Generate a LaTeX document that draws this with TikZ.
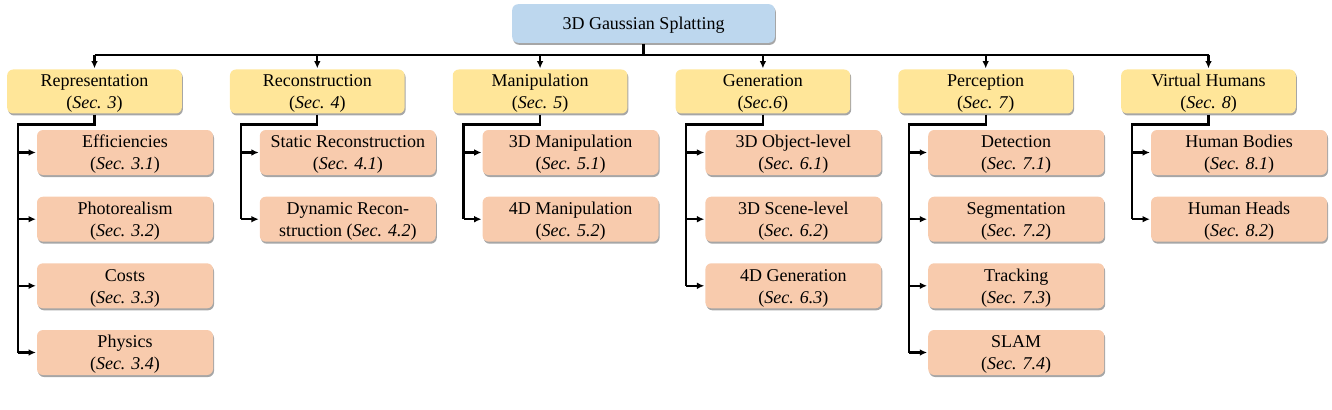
\documentclass[tikz,border=0pt]{standalone}
\usepackage{fontspec}
\setmainfont{Liberation Serif}
\usepackage{tikz}
\usepackage{xcolor}
\usetikzlibrary{arrows.meta,shadows}
\definecolor{rootblue}{RGB}{189, 215, 238}
\definecolor{catyellow}{RGB}{255, 230, 153}
\definecolor{subpeach}{RGB}{248, 203, 173}

\tikzset{
  box/.style = {rounded corners = 4.5pt, align = center, inner sep = 0pt,
    font = \fontsize{13.5}{16.5}\selectfont, text height = 29.2pt, text depth = 3pt,
    drop shadow = {shadow xshift = 0.75pt, shadow yshift = -1.5pt, fill = black, opacity = 0.35}},
  rootbox/.style = {box, fill = rootblue, minimum width = 197pt, minimum height = 29pt,
    text height = 9.5pt, text depth = 1pt},
  catbox/.style = {box, fill = catyellow, minimum width = 131pt, minimum height = 33pt},
  subbox/.style = {box, fill = subpeach, minimum width = 132pt, minimum height = 33.75pt},
}

\begin{document}
\begin{tikzpicture}[x = 0.75pt, y = -0.75pt, >={Latex[length=5.5pt, width=5pt]}, line width = 1.65pt]
\useasboundingbox (0,0) rectangle (1332,410);

\node[rootbox] (root) at (643.5,23.5) {3D Gaussian Splatting};

\node[catbox] (rep) at (94.5,91.5) {Representation\\(\textit{Sec. 3})};
\node[catbox] (rec) at (317.3,91.5) {Reconstruction\\(\textit{Sec. 4})};
\node[catbox] (man) at (540.1,91.5) {Manipulation\\(\textit{Sec. 5})};
\node[catbox] (gen) at (762.9,91.5) {Generation\\(\textit{Sec.6})};
\node[catbox] (per) at (985.7,91.5) {Perception\\(\textit{Sec. 7})};
\node[catbox] (hum) at (1208.5,91.5) {Virtual Humans\\(\textit{Sec. 8})};

\node[subbox] (rep1) at (125,152.5) {Efficiencies\\(\textit{Sec. 3.1})};
\node[subbox] (rep2) at (125,219.2) {Photorealism\\(\textit{Sec. 3.2})};
\node[subbox] (rep3) at (125,285.8) {Costs\\(\textit{Sec. 3.3})};
\node[subbox] (rep4) at (125,352.5) {Physics\\(\textit{Sec. 3.4})};

\node[subbox] (rec1) at (347.8,152.5) {Static Reconstruction\\(\textit{Sec. 4.1})};
\node[subbox] (rec2) at (347.8,219.2) {Dynamic Recon-\\struction (\textit{Sec. 4.2})};

\node[subbox] (man1) at (570.6,152.5) {3D Manipulation\\(\textit{Sec. 5.1})};
\node[subbox] (man2) at (570.6,219.2) {4D Manipulation\\(\textit{Sec. 5.2})};

\node[subbox] (gen1) at (793.4,152.5) {3D Object-level\\(\textit{Sec. 6.1})};
\node[subbox] (gen2) at (793.4,219.2) {3D Scene-level\\(\textit{Sec. 6.2})};
\node[subbox] (gen3) at (793.4,285.8) {4D Generation\\(\textit{Sec. 6.3})};

\node[subbox] (per1) at (1016.2,152.5) {Detection\\(\textit{Sec. 7.1})};
\node[subbox] (per2) at (1016.2,219.2) {Segmentation\\(\textit{Sec. 7.2})};
\node[subbox] (per3) at (1016.2,285.8) {Tracking\\(\textit{Sec. 7.3})};
\node[subbox] (per4) at (1016.2,352.5) {SLAM\\(\textit{Sec. 7.4})};

\node[subbox] (hum1) at (1239,152.5) {Human Bodies\\(\textit{Sec. 8.1})};
\node[subbox] (hum2) at (1239,219.2) {Human Heads\\(\textit{Sec. 8.2})};

% top level
\coordinate (bus) at (643.5,55);
\draw (root.south) -- (bus);
\draw (bus -| rep.north) -- (bus -| hum.north);
\foreach \c in {rep, rec, man, gen, per, hum}
  \draw[->] (bus -| \c.north) -- (\c.north);

% sections
\foreach \c/\last in {rep/rep4, rec/rec2, man/man2, gen/gen3, per/per4, hum/hum2}
  \draw (\c.south) -- ++(0,10) -| ([xshift=-13.5pt]\last.west);
\foreach \s in {rep1, rep2, rep3, rep4, rec1, rec2, man1, man2, gen1, gen2, gen3,
                per1, per2, per3, per4, hum1, hum2}
  \draw[->] ([xshift=-13.5pt]\s.west) -- (\s.west);
\end{tikzpicture}
\end{document}
